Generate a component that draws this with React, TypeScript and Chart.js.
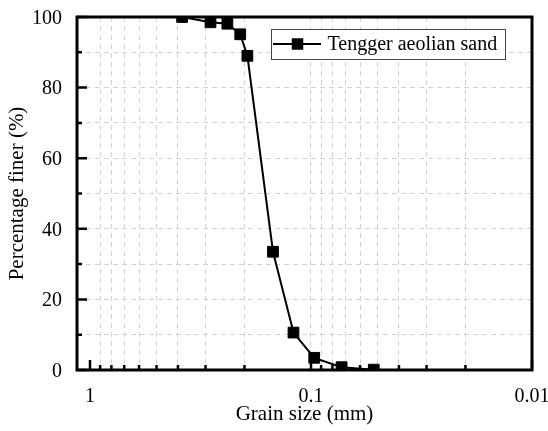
import React, { useEffect, useRef } from 'react';
import { Chart, registerables } from 'chart.js';

Chart.register(...registerables);

// ---- data ----
const grainSize = [0.383, 0.285, 0.239, 0.209, 0.194, 0.1486, 0.12, 0.0967, 0.0727, 0.052];
const percentFiner = [100, 98.5, 98.1, 95.1, 89.0, 33.5, 10.6, 3.45, 0.8, 0.1];
const seriesLabel = 'Tengger aeolian sand';
const xMajorTicks = [1, 0.1, 0.01];
const xMinorTicks = [0.9, 0.8, 0.7, 0.6, 0.5, 0.4, 0.3, 0.2, 0.09, 0.08, 0.07, 0.06, 0.05, 0.04, 0.03, 0.02];
const yMajorTicks = [0, 20, 40, 60, 80, 100];
const yMinorTicks = [10, 30, 50, 70, 90];
const xTitle = 'Grain size (mm)';
const yTitle = 'Percentage finer (%)';

const FONT = "'Liberation Serif', 'Times New Roman', serif";

const isMajorX = (v: number) => xMajorTicks.some((m) => Math.abs(m - v) < 1e-9);

const axesPlugin = {
  id: 'axesFrame',
  afterDatasetsDraw(chart: any) {
    const { ctx, chartArea } = chart;
    const { left, right, top, bottom } = chartArea;
    const xs = chart.scales.x;
    const ys = chart.scales.y;
    ctx.save();
    ctx.strokeStyle = '#000';
    ctx.lineWidth = 2.5;
    ctx.beginPath();
    [...xMajorTicks, ...xMinorTicks].forEach((v) => {
      const px = xs.getPixelForValue(v);
      if (px < left - 0.5 || px > right + 0.5) return;
      const len = isMajorX(v) ? 10 : 5;
      ctx.moveTo(px, bottom);
      ctx.lineTo(px, bottom - len);
    });
    yMajorTicks.forEach((v) => {
      const py = ys.getPixelForValue(v);
      ctx.moveTo(left, py);
      ctx.lineTo(left + 10, py);
    });
    yMinorTicks.forEach((v) => {
      const py = ys.getPixelForValue(v);
      ctx.moveTo(left, py);
      ctx.lineTo(left + 5, py);
    });
    ctx.stroke();
    ctx.lineWidth = 3;
    ctx.strokeRect(left, top, right - left, bottom - top);
    ctx.restore();
  },
  afterDraw(chart: any) {
    const { ctx, chartArea } = chart;
    const ds = chart.data.datasets[0];
    const boxRight = chartArea.right - 27;
    const boxTop = chartArea.top + 12;
    const boxW = 234;
    const boxH = 30;
    const boxLeft = boxRight - boxW;
    ctx.save();
    ctx.fillStyle = '#fff';
    ctx.fillRect(boxLeft, boxTop, boxW, boxH);
    ctx.strokeStyle = '#444';
    ctx.lineWidth = 1;
    ctx.strokeRect(boxLeft + 0.5, boxTop + 0.5, boxW, boxH);
    const cy = boxTop + boxH / 2;
    ctx.strokeStyle = '#000';
    ctx.lineWidth = 2;
    ctx.beginPath();
    ctx.moveTo(boxLeft + 2, cy);
    ctx.lineTo(boxLeft + 50, cy);
    ctx.stroke();
    ctx.fillStyle = '#000';
    const s = 11.5;
    ctx.fillRect(boxLeft + 26.5 - s / 2, cy - s / 2, s, s);
    ctx.font = `20px ${FONT}`;
    ctx.textBaseline = 'middle';
    ctx.textAlign = 'left';
    ctx.fillText(ds.label, boxLeft + 56.5, cy + 1);
    ctx.restore();
  },
};

export default function App() {
  const ref = useRef<HTMLCanvasElement>(null);
  useEffect(() => {
    document.body.style.margin = '0';
    const canvas = ref.current!;
    const chart = new Chart(canvas, {
      type: 'line',
      data: {
        datasets: [
          {
            label: seriesLabel,
            data: grainSize.map((g, i) => ({ x: g, y: percentFiner[i] })),
            borderColor: '#000',
            backgroundColor: '#000',
            borderWidth: 2,
            pointStyle: 'rect',
            pointRadius: 7.6,
            pointBorderWidth: 1,
            pointBackgroundColor: '#000',
            pointBorderColor: '#000',
            tension: 0,
            clip: 0,
          },
        ],
      },
      options: {
        animation: false,
        responsive: false,
        devicePixelRatio: 1,
        layout: { padding: { top: 17, right: 16, left: 0, bottom: 0 } },
        plugins: {
          legend: { display: false },
          tooltip: { enabled: false },
        },
        scales: {
          x: {
            type: 'logarithmic',
            reverse: true,
            min: 0.01,
            max: 1.145,
            afterFit: (s: any) => {
              s.height = 61;
              s.paddingLeft = 0;
              s.paddingRight = 0;
            },
            afterBuildTicks: (s: any) => {
              s.ticks = [...xMajorTicks, ...xMinorTicks]
                .sort((a, b) => b - a)
                .map((v) => ({ value: v, major: isMajorX(v) }));
            },
            ticks: {
              autoSkip: false,
              maxRotation: 0,
              padding: 14.5,
              color: '#000',
              font: { family: FONT, size: 20 },
              callback: (v: any) => (isMajorX(Number(v)) ? String(Number(v)) : ''),
            },
            grid: {
              drawTicks: false,
              lineWidth: 1,
              color: (c: any) =>
                c.tick && (Math.abs(c.tick.value - 1) < 1e-9 || Math.abs(c.tick.value - 0.01) < 1e-9)
                  ? 'rgba(0,0,0,0)'
                  : '#d2d2d2',
            },
            border: { display: false, dash: [5, 4] },
            title: {
              display: true,
              text: xTitle,
              color: '#000',
              font: { family: FONT, size: 21 },
              padding: 4,
            },
          },
          y: {
            type: 'linear',
            min: 0,
            max: 100,
            afterFit: (s: any) => {
              s.width = 77;
              s.paddingTop = 0;
              s.paddingBottom = 0;
            },
            afterBuildTicks: (s: any) => {
              s.ticks = [...yMajorTicks, ...yMinorTicks].sort((a, b) => a - b).map((v) => ({ value: v }));
            },
            ticks: {
              autoSkip: false,
              padding: 15,
              labelOffset: 1.5,
              color: '#000',
              font: { family: FONT, size: 20 },
              callback: (v: any) => (yMajorTicks.includes(Number(v)) ? String(v) : ''),
            },
            grid: {
              drawTicks: false,
              lineWidth: 1,
              color: (c: any) =>
                c.tick && (c.tick.value === 0 || c.tick.value === 100) ? 'rgba(0,0,0,0)' : '#d2d2d2',
            },
            border: { display: false, dash: [5, 4] },
            title: {
              display: true,
              text: yTitle,
              color: '#000',
              font: { family: FONT, size: 21 },
              padding: 5,
            },
          },
        },
      },
      plugins: [axesPlugin],
    });
    return () => chart.destroy();
  }, []);
  return (
    <div style={{ position: 'absolute', left: 0, top: 0, width: 548, height: 431, background: '#fff' }}>
      <canvas ref={ref} width={548} height={431} />
    </div>
  );
}
